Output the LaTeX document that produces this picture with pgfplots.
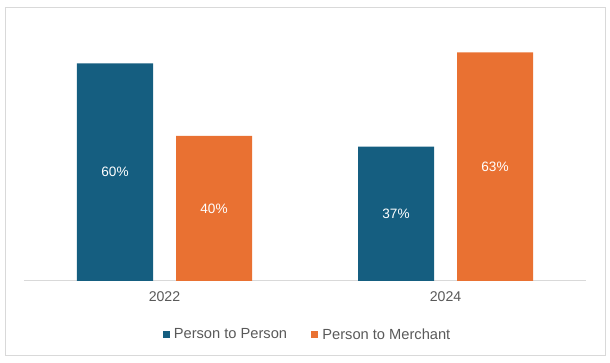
\documentclass[border=0pt]{standalone}
\usepackage{pgfplots}
\pgfplotsset{compat=1.18}
\usepackage{fontspec}
\setmainfont{Liberation Sans}
\definecolor{pblue}{HTML}{155E80}
\definecolor{porange}{HTML}{E97132}
\definecolor{txtgray}{HTML}{595959}
\definecolor{linegray}{HTML}{D9D9D9}
\begin{document}
\begin{tikzpicture}
\useasboundingbox (-18pt,-61.5pt) rectangle (439.5pt,210.75pt);
\draw[linegray, line width=0.75pt] (-14.25pt,-56.25pt) rectangle (435.75pt,204.75pt);
\begin{axis}[
  scale only axis,
  width=421.5pt, height=190.5pt,
  xmin=-0.5, xmax=1.5, ymin=0, ymax=70,
  axis y line=none,
  axis x line*=bottom,
  x axis line style={draw=linegray, line width=0.75pt},
  xtick={0,1}, xticklabels={2022,2024},
  major tick length=0pt,
  xticklabel style={font=\fontsize{10.6}{12}\selectfont, text=txtgray, yshift=-4.5pt},
  /pgf/number format/assume math mode=true,
  clip=false,
  legend columns=2,
  legend style={at={(0.505,-0.212)}, anchor=center, draw=none, fill=none,
    font=\fontsize{11}{13}\selectfont, text=txtgray,
    /tikz/every odd column/.append style={column sep=1pt},
    /tikz/every even column/.append style={column sep=16pt}},
  legend image code/.code={\fill[#1] (0pt,-2.7pt) rectangle (5.4pt,2.7pt);},
]
\addplot[ybar, bar width=57pt, bar shift=-37.125pt, fill=pblue, draw=none]
  coordinates {(0,60) (1,37)};
\addlegendentry{Person to Person}
\addplot[ybar, bar width=57pt, bar shift=37.125pt, fill=porange, draw=none]
  coordinates {(0,40) (1,63)};
\addlegendentry{Person to Merchant}
\addplot[draw=none, forget plot, nodes near coords, point meta=explicit symbolic,
  every node near coord/.style={anchor=center, xshift=-37.125pt, text=white, font=\fontsize{10.2}{12}\selectfont}]
  coordinates {(0,30) [60\%] (1,18.5) [37\%]};
\addplot[draw=none, forget plot, nodes near coords, point meta=explicit symbolic,
  every node near coord/.style={anchor=center, xshift=37.125pt, text=white, font=\fontsize{10.2}{12}\selectfont}]
  coordinates {(0,20) [40\%] (1,31.5) [63\%]};
\end{axis}
\end{tikzpicture}
\end{document}
